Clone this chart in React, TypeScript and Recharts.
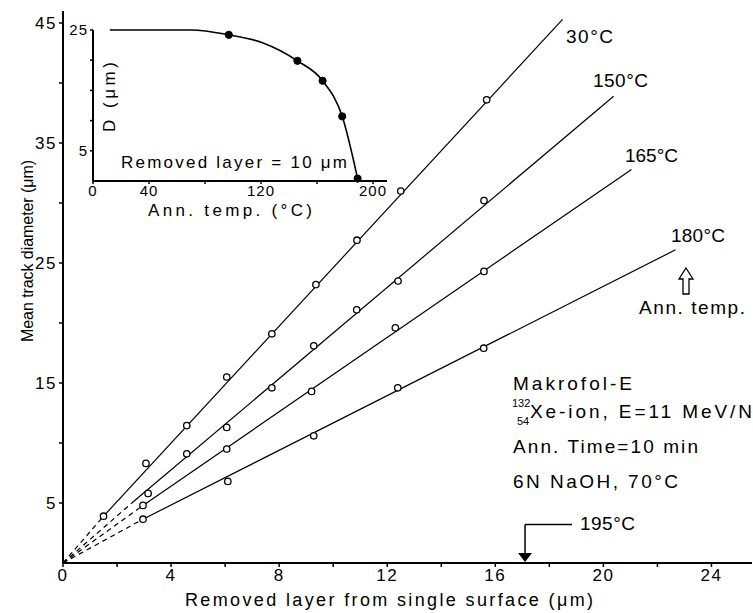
import React from 'react';
import {
  ComposedChart,
  LineChart,
  Line,
  Scatter,
  XAxis,
  YAxis,
  ReferenceLine,
  ReferenceDot,
} from 'recharts';

const FONT = '"Liberation Sans", Arial, Helvetica, sans-serif';

// ---- main chart data (removed layer in µm vs mean track diameter in µm)
const seriesLabels = ['30°C', '150°C', '165°C', '180°C'];
const x30 = [1.5, 3.07, 4.58, 6.06, 7.73, 9.36, 10.88, 12.5, 15.68];
const y30 = [3.9, 8.3, 11.45, 15.5, 19.1, 23.2, 26.9, 31.0, 38.6];
const x150 = [3.15, 4.58, 6.06, 7.73, 9.28, 10.87, 12.4, 15.58];
const y150 = [5.8, 9.1, 11.3, 14.6, 18.1, 21.1, 23.5, 30.2];
const x165 = [2.96, 6.06, 9.2, 12.3, 15.58];
const y165 = [4.8, 9.5, 14.3, 19.6, 24.3];
const x180 = [2.96, 6.1, 9.28, 12.39, 15.57];
const y180 = [3.65, 6.8, 10.6, 14.6, 17.9];
// fitted line: dashed from origin to start, solid from start to end
const solidStartX = [1.5, 2.6, 2.96, 2.96];
const solidStartY = [3.9, 5.1, 4.8, 3.65];
const solidEndX = [18.49, 20.38, 21.04, 22.67];
const solidEndY = [45.3, 38.9, 32.8, 26.1];
const pointsX = [x30, x150, x165, x180];
const pointsY = [y30, y150, y165, y180];

const mainXTicks = [0, 2, 4, 6, 8, 10, 12, 14, 16, 18, 20, 22, 24];
const mainYTicks = [5, 10, 15, 20, 25, 30, 35, 40, 45];

// 195°C marker on the x axis
const marker195X = 17.1;
const marker195Top = 3.2;
const marker195Mid = 0.8;
const marker195LabelX = 18.84;

// ---- inset data (annealing temperature vs D)
const insetCurveT = [12, 70, 97, 121, 146, 164, 178, 189];
const insetCurveD = [25, 25, 24.2, 22.9, 19.9, 16.6, 10.7, 0.4];
const insetDotT = [97, 146, 164, 178, 189];
const insetDotD = [24.2, 19.9, 16.6, 10.7, 0.4];
const insetXTicks = [0, 40, 80, 120, 160, 200];
const insetXLabels = ['0', '40', '', '120', '', '200'];
const insetYTicks = [5, 10, 15, 20, 25];
const insetYLabels = ['5', '', '', '', '25'];

const toPts = (xs: number[], ys: number[]) => xs.map((x, i) => ({ x, y: ys[i] }));

const OpenCircle = (p: any) => (
  <circle cx={p.cx} cy={p.cy} r={3.2} fill="#fff" stroke="#000" strokeWidth={1.3} />
);
const FilledCircle = (p: any) => (
  <circle key={p.index} cx={p.cx} cy={p.cy} r={3.6} fill="#000" stroke="#000" strokeWidth={1} />
);

const T = (props: any) => {
  const { x, y, w, size, children, rotate } = props;
  return (
    <text
      x={x}
      y={y}
      fontSize={size}
      fontFamily={FONT}
      fill="#000"
      textLength={w}
      lengthAdjust="spacing"
      textAnchor={rotate ? 'middle' : 'start'}
      transform={rotate ? `rotate(-90, ${x}, ${y})` : undefined}
    >
      {children}
    </text>
  );
};

export default function App() {
  const tickStyle = { fontSize: 17, fill: '#000', fontFamily: FONT, letterSpacing: 1.5 };
  const insetTickStyle = { fontSize: 15, fill: '#000', fontFamily: FONT, letterSpacing: 1 };
  return (
    <div style={{ position: 'absolute', left: 0, top: 0, width: 753, height: 613, background: '#fff' }}>
      <div style={{ position: 'absolute', left: 0, top: 0 }}>
        <ComposedChart width={753} height={613} margin={{ top: 11, right: 1, bottom: 0, left: 0 }}>
          <XAxis
            dataKey="x"
            type="number"
            domain={[0, 25.5]}
            ticks={mainXTicks}
            interval={0}
            tickFormatter={(v: number) => (v % 4 === 0 ? String(v) : '')}
            tick={tickStyle}
            tickSize={4}
            tickMargin={2}
            height={50}
            axisLine={{ stroke: '#000', strokeWidth: 2 }}
            tickLine={{ stroke: '#000', strokeWidth: 1.5 }}
          />
          <YAxis
            type="number"
            domain={[0, 46]}
            ticks={mainYTicks}
            interval={0}
            tickFormatter={(v: number) => (v % 10 === 5 ? String(v) : '')}
            tick={tickStyle}
            tickSize={4}
            tickMargin={2}
            width={63}
            axisLine={{ stroke: '#000', strokeWidth: 2 }}
            tickLine={{ stroke: '#000', strokeWidth: 1.5 }}
          />
          {seriesLabels.map((lab, i) => (
            <Line
              key={'d' + lab}
              data={[{ x: 0, y: 0 }, { x: solidStartX[i], y: solidStartY[i] }]}
              dataKey="y"
              type="linear"
              stroke="#000"
              strokeWidth={1.2}
              strokeDasharray="5 4"
              dot={false}
              activeDot={false}
              isAnimationActive={false}
            />
          ))}
          {seriesLabels.map((lab, i) => (
            <Line
              key={'s' + lab}
              data={[
                { x: solidStartX[i], y: solidStartY[i] },
                { x: solidEndX[i], y: solidEndY[i] },
              ]}
              dataKey="y"
              type="linear"
              stroke="#000"
              strokeWidth={1.2}
              dot={false}
              activeDot={false}
              isAnimationActive={false}
            />
          ))}
          {seriesLabels.map((lab, i) => (
            <Scatter
              key={'p' + lab}
              data={toPts(pointsX[i], pointsY[i])}
              dataKey="y"
              shape={OpenCircle}
              isAnimationActive={false}
            />
          ))}
          <ReferenceLine
            segment={[
              { x: marker195X, y: marker195Top },
              { x: marker195X, y: marker195Mid },
            ]}
            stroke="#000"
            strokeWidth={1.5}
            ifOverflow="visible"
          />
          <ReferenceLine
            segment={[
              { x: marker195X, y: marker195Top },
              { x: marker195LabelX, y: marker195Top },
            ]}
            stroke="#000"
            strokeWidth={1.5}
            ifOverflow="visible"
          />
          <ReferenceDot
            x={marker195X}
            y={0}
            r={0}
            ifOverflow="visible"
            shape={(p: any) => (
              <path d={`M${p.cx - 7},${p.cy - 10}L${p.cx + 7},${p.cy - 10}L${p.cx},${p.cy - 1}Z`} fill="#000" />
            )}
          />
        </ComposedChart>
      </div>

      <div style={{ position: 'absolute', left: 0, top: 0 }}>
        <LineChart width={400} height={230} margin={{ top: 30, right: 13, bottom: 0, left: 0 }}>
          <XAxis
            dataKey="x"
            type="number"
            domain={[0, 210]}
            ticks={insetXTicks}
            interval={0}
            tickFormatter={(v: number) => insetXLabels[insetXTicks.indexOf(v)]}
            tick={insetTickStyle}
            tickSize={3}
            tickMargin={1}
            height={49}
            axisLine={{ stroke: '#000', strokeWidth: 2 }}
            tickLine={{ stroke: '#000', strokeWidth: 1.5 }}
          />
          <YAxis
            type="number"
            domain={[0, 25]}
            ticks={insetYTicks}
            interval={0}
            tickFormatter={(v: number) => insetYLabels[insetYTicks.indexOf(v)]}
            tick={insetTickStyle}
            tickSize={3}
            tickMargin={2}
            width={93}
            axisLine={{ stroke: '#000', strokeWidth: 2 }}
            tickLine={{ stroke: '#000', strokeWidth: 1.5 }}
          />
          <Line
            data={toPts(insetCurveT, insetCurveD)}
            dataKey="y"
            type="monotone"
            stroke="#000"
            strokeWidth={1.6}
            dot={false}
            activeDot={false}
            isAnimationActive={false}
          />
          <Line
            data={toPts(insetDotT, insetDotD)}
            dataKey="y"
            stroke="none"
            dot={FilledCircle}
            activeDot={false}
            isAnimationActive={false}
          />
        </LineChart>
      </div>

      <svg
        width={753}
        height={613}
        style={{ position: 'absolute', left: 0, top: 0, pointerEvents: 'none' }}
      >
        {/* main axis titles */}
        <T x={33} y={251} w={182} size={16} rotate>
          Mean track diameter (μm)
        </T>
        <T x={185} y={606} w={408} size={18}>
          Removed layer from single surface (μm)
        </T>
        {/* series labels */}
        <T x={566} y={43} w={47} size={19}>30°C</T>
        <T x={593} y={87} w={55} size={19}>150°C</T>
        <T x={625} y={162} w={53} size={19}>165°C</T>
        <T x={671} y={242} w={54} size={19}>180°C</T>
        <polygon
          points="686,268 693,279 689,279 689,294 683,294 683,279 679,279"
          fill="#fff"
          stroke="#000"
          strokeWidth={1.3}
        />
        <T x={639} y={314} w={106} size={19}>Ann. temp.</T>
        {/* info block */}
        <T x={513} y={490 - 100} w={119} size={19}>Makrofol-E</T>
        <text x={512} y={407} fontSize={11} fontFamily={FONT} fill="#000">132</text>
        <text x={517} y={425} fontSize={11} fontFamily={FONT} fill="#000">54</text>
        <T x={530} y={418} w={222} size={19}>Xe-ion, E=11 MeV/N</T>
        <T x={513} y={453} w={185} size={19}>Ann. Time=10 min</T>
        <T x={513} y={488} w={165} size={19}>6N NaOH, 70°C</T>
        <T x={580} y={530} w={55} size={19}>195°C</T>
        {/* inset texts */}
        <T x={115} y={97} w={70} size={17} rotate>D (μm)</T>
        <T x={121} y={168} w={226} size={17}>Removed layer = 10 μm</T>
        <T x={148} y={216} w={164} size={17}>Ann. temp. (°C)</T>
      </svg>
    </div>
  );
}
